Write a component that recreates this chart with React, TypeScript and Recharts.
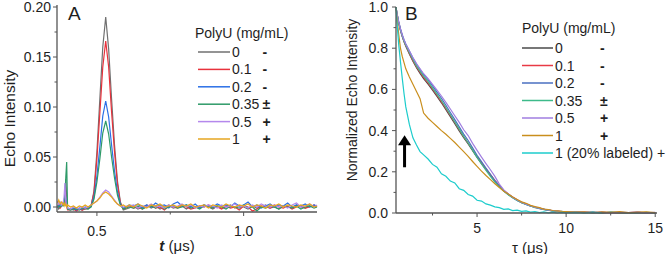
import React from 'react';
import { LineChart, Line, XAxis, YAxis, Legend, Label, ReferenceLine, ReferenceDot } from 'recharts';

const FONT = '"Liberation Sans", Arial, Helvetica, sans-serif';
const AXIS = '#555';
const TEXT = '#1e1e1e';

// ---------- Panel A : echo intensity vs t (µs) ----------
const tA = [
  0.366, 0.370, 0.375, 0.380, 0.385, 0.388, 0.391, 0.394, 0.397, 0.400,
  0.41, 0.42, 0.43, 0.44, 0.45, 0.46, 0.47, 0.48,
  0.49, 0.50, 0.51, 0.52, 0.53, 0.54, 0.55, 0.56, 0.57, 0.58, 0.59, 0.60,
  0.61, 0.625, 0.64, 0.655, 0.67, 0.685, 0.70, 0.715, 0.73, 0.745, 0.76,
  0.775, 0.79, 0.805, 0.82, 0.835, 0.85, 0.865, 0.88, 0.895, 0.91, 0.925,
  0.94, 0.955, 0.97, 0.985, 1.00, 1.015, 1.03, 1.045, 1.06, 1.075, 1.09,
  1.105, 1.12, 1.135, 1.15, 1.165, 1.18, 1.195, 1.21, 1.225, 1.24, 1.25,
];
const echo0 = [
  0.001, -0.002, 0.000, 0.002, 0.004, 0.003, 0.010, 0.028, 0.010, -0.002,
  -0.002, -0.003, -0.001, -0.002, -0.003, -0.001, -0.002, 0.001,
  0.016, 0.055, 0.108, 0.160, 0.190, 0.158, 0.108, 0.062, 0.026, 0.005, -0.003, -0.002,
  -0.001, 0.001, -0.002, 0.000, 0.002, -0.001, 0.001, -0.002, 0.000, 0.002, -0.001,
  0.000, 0.001, -0.002, 0.001, 0.000, -0.001, 0.002, 0.000, -0.002, 0.001, -0.001,
  0.000, 0.002, -0.001, 0.001, 0.000, -0.002, 0.001, -0.001, 0.000, 0.002, -0.001,
  0.000, -0.002, 0.001, 0.000, -0.001, 0.002, 0.000, -0.001, 0.001, 0.000, 0.001,
];
const echo01 = [
  0.000, 0.002, -0.001, 0.001, 0.004, 0.006, 0.008, 0.004, 0.001, -0.003,
  -0.003, -0.002, -0.004, -0.002, -0.003, -0.002, -0.001, 0.001,
  0.014, 0.048, 0.094, 0.140, 0.166, 0.140, 0.095, 0.055, 0.023, 0.004, -0.002, -0.001,
  0.001, -0.001, 0.000, -0.002, 0.001, 0.002, -0.001, 0.000, -0.003, 0.001, 0.000,
  -0.001, 0.002, 0.000, -0.002, -0.001, 0.001, 0.000, 0.002, -0.001, 0.000, -0.002,
  0.001, -0.001, 0.000, -0.003, 0.001, 0.000, -0.004, -0.002, 0.001, 0.000, -0.001,
  0.002, 0.000, -0.001, 0.001, -0.002, 0.000, 0.001, -0.001, 0.000, 0.002, 0.000,
];
const echo02 = [
  0.002, 0.000, 0.003, 0.001, 0.004, 0.006, 0.012, 0.008, 0.002, -0.001,
  -0.002, -0.001, -0.003, -0.001, -0.002, 0.000, -0.001, 0.001,
  0.010, 0.031, 0.060, 0.091, 0.106, 0.090, 0.062, 0.036, 0.015, 0.003, -0.001, 0.000,
  0.002, 0.001, 0.003, -0.001, 0.002, 0.000, 0.004, 0.001, 0.002, -0.001, 0.003,
  0.005, 0.001, 0.002, 0.000, 0.003, -0.001, 0.002, 0.001, 0.000, 0.003, 0.001,
  0.002, 0.000, 0.004, 0.001, 0.002, 0.005, 0.000, 0.002, -0.001, 0.001, 0.003,
  0.000, 0.002, 0.001, 0.004, 0.000, 0.002, 0.001, 0.003, 0.000, 0.002, 0.001,
];
const echo035 = [
  -0.001, 0.001, 0.000, 0.002, 0.001, 0.002, 0.010, 0.030, 0.045, -0.002,
  -0.003, -0.002, -0.002, -0.003, -0.001, -0.002, -0.002, 0.000,
  0.008, 0.025, 0.048, 0.074, 0.086, 0.073, 0.050, 0.029, 0.012, 0.002, -0.002, -0.001,
  0.000, -0.001, 0.001, -0.002, 0.000, 0.001, -0.001, 0.002, -0.002, 0.000, 0.001,
  -0.001, 0.000, 0.002, -0.001, 0.000, -0.002, 0.001, 0.000, -0.001, 0.001, 0.000,
  -0.002, 0.001, 0.000, -0.001, 0.002, -0.001, 0.000, -0.004, 0.000, -0.001, 0.001,
  0.000, -0.002, 0.001, 0.000, -0.001, 0.001, -0.002, 0.000, 0.001, -0.001, 0.000,
];
const echo05 = [
  0.006, 0.003, 0.005, 0.002, 0.004, 0.010, 0.024, 0.006, 0.000, -0.001,
  -0.002, 0.000, -0.001, -0.002, 0.000, -0.001, 0.000, 0.002,
  0.004, 0.006, 0.010, 0.014, 0.017, 0.015, 0.011, 0.007, 0.003, 0.001, 0.000, 0.001,
  0.001, 0.002, -0.001, 0.001, 0.000, 0.003, 0.000, 0.001, -0.001, 0.002, 0.000,
  0.001, 0.003, 0.000, 0.002, -0.001, 0.001, 0.000, 0.002, 0.001, -0.001, 0.002,
  0.000, 0.001, 0.003, 0.000, 0.001, -0.001, 0.002, 0.000, 0.003, 0.001, 0.000,
  0.002, 0.000, 0.001, -0.001, 0.002, 0.004, 0.000, 0.001, 0.003, 0.000, 0.002,
];
const echo1 = [
  0.004, 0.007, 0.003, 0.005, 0.002, 0.004, 0.001, 0.003, 0.000, 0.002,
  0.000, 0.001, -0.001, 0.001, 0.000, 0.002, 0.000, 0.002,
  0.004, 0.006, 0.009, 0.013, 0.015, 0.013, 0.010, 0.006, 0.003, 0.001, 0.002, 0.000,
  0.002, 0.000, 0.003, 0.001, -0.001, 0.002, 0.001, 0.003, 0.000, 0.001, 0.002,
  0.000, 0.002, 0.001, 0.003, 0.000, 0.001, 0.002, -0.001, 0.002, 0.001, 0.000,
  0.003, 0.001, 0.000, 0.002, 0.001, 0.003, 0.000, 0.002, 0.001, -0.001, 0.002,
  0.001, 0.003, 0.000, 0.002, 0.001, 0.000, 0.002, 0.001, 0.003, 0.000, 0.001,
];

// ---------- Panel B : normalized echo intensity vs tau (µs) ----------
const tauB = [
  0.45, 0.5, 0.6, 0.7, 0.8, 0.9, 1.0, 1.2, 1.4, 1.6, 1.8, 2.0,
  2.25, 2.5, 2.75, 3.0, 3.25, 3.5, 3.75, 4.0, 4.25, 4.5, 4.75, 5.0,
  5.25, 5.5, 5.75, 6.0, 6.25, 6.5, 6.75, 7.0, 7.25, 7.5, 7.75, 8.0,
  8.25, 8.5, 8.75, 9.0, 9.25, 9.5, 9.75, 10.0,
  10.5, 11.0, 11.5, 12.0, 12.5, 13.0, 13.5, 14.0, 14.5, 15.0,
];
const norm0 = [
  1.0, 0.968, 0.922, 0.886, 0.856, 0.831, 0.81, 0.772, 0.737, 0.705,
  0.678, 0.652, 0.626, 0.596, 0.566, 0.535, 0.502, 0.468, 0.434, 0.399,
  0.366, 0.335, 0.302, 0.27, 0.24, 0.212, 0.184, 0.155, 0.13, 0.108,
  0.091, 0.076, 0.062, 0.052, 0.043, 0.034, 0.029, 0.022, 0.019, 0.013,
  0.012, 0.008, 0.008, 0.004, 0.005, 0.002, 0.004, 0.001, 0.003, 0.002,
  0.000, 0.003, 0.001, 0.002,
];
const norm01 = [
  1.0, 0.97, 0.926, 0.89, 0.86, 0.834, 0.813, 0.776, 0.741, 0.71,
  0.684, 0.658, 0.632, 0.602, 0.572, 0.541, 0.508, 0.474, 0.44, 0.405,
  0.371, 0.34, 0.306, 0.274, 0.243, 0.214, 0.186, 0.158, 0.133, 0.11,
  0.092, 0.077, 0.064, 0.05, 0.044, 0.035, 0.027, 0.024, 0.017, 0.015,
  0.01, 0.009, 0.006, 0.006, 0.003, 0.004, 0.001, 0.003, 0.002, 0.000,
  0.002, 0.003, 0.001, 0.000,
];
const norm02 = [
  1.0, 0.972, 0.93, 0.895, 0.866, 0.841, 0.82, 0.786, 0.752, 0.722,
  0.697, 0.672, 0.647, 0.617, 0.587, 0.557, 0.523, 0.488, 0.453, 0.418,
  0.383, 0.352, 0.316, 0.28, 0.249, 0.218, 0.188, 0.157, 0.131, 0.107,
  0.09, 0.074, 0.061, 0.05, 0.042, 0.033, 0.028, 0.021, 0.018, 0.014,
  0.01, 0.009, 0.006, 0.005, 0.004, 0.002, 0.003, 0.001, 0.003, 0.002,
  0.001, 0.000, 0.002, 0.001,
];
const norm035 = [
  1.0, 0.969, 0.924, 0.889, 0.859, 0.834, 0.814, 0.779, 0.745, 0.714,
  0.689, 0.664, 0.638, 0.607, 0.577, 0.546, 0.512, 0.477, 0.442, 0.407,
  0.372, 0.34, 0.305, 0.27, 0.238, 0.207, 0.178, 0.15, 0.127, 0.106,
  0.089, 0.074, 0.061, 0.05, 0.041, 0.034, 0.026, 0.023, 0.016, 0.014,
  0.01, 0.008, 0.007, 0.004, 0.005, 0.002, 0.003, 0.000, 0.004, 0.001,
  0.002, 0.000, 0.003, 0.001,
];
const norm05 = [
  1.0, 0.97, 0.928, 0.893, 0.864, 0.84, 0.82, 0.787, 0.754, 0.725,
  0.7, 0.676, 0.652, 0.624, 0.596, 0.568, 0.537, 0.505, 0.472, 0.44,
  0.404, 0.376, 0.338, 0.304, 0.271, 0.24, 0.21, 0.178, 0.14, 0.112,
  0.093, 0.077, 0.063, 0.053, 0.043, 0.036, 0.028, 0.024, 0.018, 0.015,
  0.011, 0.01, 0.006, 0.007, 0.004, 0.006, 0.002, 0.005, 0.001, 0.004,
  0.002, 0.005, 0.001, 0.003,
];
const norm1 = [
  1.0, 0.95, 0.87, 0.80, 0.76, 0.73, 0.70, 0.66, 0.625, 0.59,
  0.555, 0.485, 0.46, 0.44, 0.42, 0.40, 0.382, 0.362, 0.342, 0.32,
  0.298, 0.275, 0.25, 0.226, 0.203, 0.182, 0.162, 0.142, 0.124, 0.106,
  0.092, 0.078, 0.066, 0.054, 0.047, 0.037, 0.031, 0.026, 0.019, 0.017,
  0.012, 0.01, 0.008, 0.007, 0.004, 0.006, 0.002, 0.005, 0.003, 0.007,
  0.002, 0.004, 0.006, 0.002,
];
const norm1lab = [
  1.0, 0.93, 0.82, 0.735, 0.655, 0.58, 0.515, 0.43, 0.365, 0.33,
  0.298, 0.282, 0.262, 0.236, 0.222, 0.19, 0.178, 0.155, 0.146, 0.118,
  0.11, 0.09, 0.082, 0.062, 0.058, 0.044, 0.038, 0.03, 0.026, 0.018,
  0.02, 0.012, 0.014, 0.008, 0.01, 0.004, 0.007, 0.002, 0.005, 0.001,
  0.004, 0.0, 0.003, 0.001, 0.002, 0.0, 0.003, 0.001,
  null, null, null, null, null, null,
];

// ---------- labels / ticks ----------
const concA = ['0', '0.1', '0.2', '0.35', '0.5', '1'];
const signA = ['-', '-', '-', '±', '+', '+'];
const concB = ['0', '0.1', '0.2', '0.35', '0.5', '1', '1 (20% labeled) +'];
const signB = ['-', '-', '-', '±', '+', '+', ''];
const colorsA = ['#707070', '#e8323c', '#2b6fe6', '#2e9a68', '#b488ec', '#e6a620'];
const colorsB = ['#4a4a4a', '#e83a45', '#4a6fc0', '#3dba8a', '#a07ee0', '#c98e1c', '#1ccccc'];

const yMajorA = [0, 0.05, 0.1, 0.15, 0.2];
const yMinorA = [0.025, 0.075, 0.125, 0.175];
const xMajorA = [0.5, 1.0];
const xMinorA = [0.75];
const yMajorB = [0, 0.2, 0.4, 0.6, 0.8, 1.0];
const yMinorB = [0.1, 0.3, 0.5, 0.7, 0.9];
const xMajorB = [5, 10, 15];
const xMinorB = [2.5, 7.5, 12.5];

const keysA = ['a0', 'a1', 'a2', 'a3', 'a4', 'a5'];
const seriesA = [echo0, echo01, echo02, echo035, echo05, echo1];
const keysB = ['b0', 'b1', 'b2', 'b3', 'b4', 'b5', 'b6'];
const seriesB = [norm0, norm01, norm02, norm035, norm05, norm1, norm1lab];

const rowsA = tA.map((t, i) => {
  const r: any = { t };
  keysA.forEach((k, j) => { r[k] = seriesA[j][i]; });
  return r;
});
const rowsB = tauB.map((tau, i) => {
  const r: any = { tau };
  keysB.forEach((k, j) => { r[k] = seriesB[j][i]; });
  return r;
});

const isIn = (arr: number[], v: number) => arr.some((m) => Math.abs(m - v) < 1e-9);

const makeLeftTick = (majors: number[], digits: number, gap: number) => (props: any) => {
  const { x, y, payload } = props;
  const v = payload.value;
  const major = isIn(majors, v);
  return (
    <g>
      <line x1={x - (major ? 4 : 2.5)} x2={x} y1={y} y2={y} stroke={AXIS} strokeWidth={1} />
      {major && (
        <text x={x - gap} y={y} textAnchor="end" dominantBaseline="central" fontSize={14} fill={TEXT} fontFamily={FONT}>
          {v.toFixed(digits)}
        </text>
      )}
    </g>
  );
};

const makeBottomTick = (majors: number[], digits: number, off: number) => (props: any) => {
  const { x, y, payload } = props;
  const v = payload.value;
  const major = isIn(majors, v);
  return (
    <g>
      <line x1={x} x2={x} y1={y} y2={y + (major ? 4 : 2.5)} stroke={AXIS} strokeWidth={1} />
      {major && (
        <text x={x} y={y + off} textAnchor="middle" dominantBaseline="central" fontSize={14} fill={TEXT} fontFamily={FONT}>
          {v.toFixed(digits)}
        </text>
      )}
    </g>
  );
};

const yTitle = (text: string, dx: number, dy: number, size: number) => (props: any) => {
  const vb = props.viewBox || { x: 0, y: 0, width: 0, height: 0 };
  const cx = vb.x + dx;
  const cy = vb.y + vb.height / 2 + dy;
  return (
    <text x={cx} y={cy} transform={`rotate(-90, ${cx}, ${cy})`} textAnchor="middle" dominantBaseline="central"
      fontSize={size} fill={TEXT} fontFamily={FONT}>
      {text}
    </text>
  );
};

const xTitle = (sym: string, italic: boolean, dx: number, dy: number) => (props: any) => {
  const vb = props.viewBox || { x: 0, y: 0, width: 0, height: 0 };
  const cx = vb.x + vb.width / 2 + dx;
  const cy = vb.y + dy;
  return (
    <text x={cx} y={cy} textAnchor="middle" dominantBaseline="central" fontSize={15} fill={TEXT} fontFamily={FONT}>
      <tspan fontStyle={italic ? 'italic' : 'normal'} fontWeight={italic ? 'bold' : 'normal'}>{sym}</tspan>
      <tspan> (μs)</tspan>
    </text>
  );
};

const legendA = () => (
  <svg width={120} height={130} style={{ display: 'block', overflow: 'visible' }}>
    <text x={5} y={13} dominantBaseline="central" fontSize={14} fill={TEXT} fontFamily={FONT}>PolyU (mg/mL)</text>
    {concA.map((c, i) => {
      const y = 32 + 17.4 * i;
      return (
        <g key={c}>
          <line x1={8} x2={40} y1={y} y2={y} stroke={colorsA[i]} strokeWidth={1.5} />
          <text x={42} y={y} dominantBaseline="central" fontSize={14} fill={TEXT} fontFamily={FONT}>{c}</text>
          <text x={72.5} y={y} dominantBaseline="central" fontSize={14} fontWeight="bold" fill={TEXT} fontFamily={FONT}>{signA[i]}</text>
        </g>
      );
    })}
  </svg>
);

const legendB = () => (
  <svg width={151} height={150} style={{ display: 'block', overflow: 'visible' }}>
    <text x={7} y={13} dominantBaseline="central" fontSize={14} fill={TEXT} fontFamily={FONT}>PolyU (mg/mL)</text>
    {concB.map((c, i) => {
      const y = 33 + 17.5 * i;
      return (
        <g key={c}>
          <line x1={7} x2={38} y1={y} y2={y} stroke={colorsB[i]} strokeWidth={1.5} />
          <text x={40} y={y} dominantBaseline="central" fontSize={14} fill={TEXT} fontFamily={FONT}>{c}</text>
          {signB[i] && (
            <text x={85} y={y} dominantBaseline="central" fontSize={14} fontWeight="bold" fill={TEXT} fontFamily={FONT}>{signB[i]}</text>
          )}
        </g>
      );
    })}
  </svg>
);

const arrowHead = (props: any) => {
  const { cx, cy } = props;
  return <polygon points={`${cx},${cy} ${cx - 6.5},${cy + 10} ${cx + 6.5},${cy + 10}`} fill="#000" />;
};

const panelLetter = (ch: string, left: number) => (
  <svg style={{ position: 'absolute', left, top: 0, overflow: 'visible' }} width={24} height={24}>
    <text x={0} y={20} fontSize={19} fill={TEXT} fontFamily={FONT}>{ch}</text>
  </svg>
);

export default function App() {
  return (
    <div style={{ position: 'absolute', left: 0, top: 0, width: 666, height: 254, background: '#fff', overflow: 'hidden' }}>
      <div style={{ position: 'absolute', left: 0, top: 0 }}>
        <LineChart width={333} height={254} data={rowsA} margin={{ top: 5, right: 16, bottom: 12, left: 0 }}>
          <XAxis dataKey="t" type="number" domain={[0.364, 1.25]} ticks={[...xMajorA, ...xMinorA]} interval={0}
            height={30} tickSize={0} tickMargin={0} tickLine={false} axisLine={{ stroke: AXIS, strokeWidth: 1.3 }}
            tick={makeBottomTick(xMajorA, 1, 19)}>
            <Label content={xTitle('t', true, -10, 33)} />
          </XAxis>
          <YAxis type="number" domain={[-0.005, 0.202]} ticks={[...yMajorA, ...yMinorA]} interval={0}
            width={57} tickSize={0} tickMargin={0} tickLine={false} axisLine={{ stroke: AXIS, strokeWidth: 1.3 }}
            tick={makeLeftTick(yMajorA, 2, 6)}>
            <Label content={yTitle('Echo Intensity', 9, 10, 15.5)} />
          </YAxis>
          {keysA.map((k, i) => (
            <Line key={k} dataKey={k} name={concA[i]} stroke={colorsA[i]} strokeWidth={1.2} dot={false}
              isAnimationActive={false} />
          ))}
          <Legend layout="vertical" align="center" verticalAlign="middle" content={legendA}
            wrapperStyle={{ position: 'absolute', left: 190, top: 20, width: 120, height: 130 }} />
        </LineChart>
      </div>
      <div style={{ position: 'absolute', left: 333, top: 0 }}>
        <LineChart width={333} height={254} data={rowsB} margin={{ top: 7, right: 9, bottom: 11, left: 0 }}>
          <XAxis dataKey="tau" type="number" domain={[0.45, 15.1]} ticks={[...xMajorB, ...xMinorB]} interval={0}
            height={30} tickSize={0} tickMargin={0} tickLine={false} axisLine={{ stroke: AXIS, strokeWidth: 1.3 }}
            tick={makeBottomTick(xMajorB, 0, 15)}>
            <Label content={xTitle('τ', false, 3.5, 34)} />
          </XAxis>
          <YAxis type="number" domain={[0, 1.0]} ticks={[...yMajorB, ...yMinorB]} interval={0}
            width={63} tickSize={0} tickMargin={0} tickLine={false} axisLine={{ stroke: AXIS, strokeWidth: 1.3 }}
            tick={makeLeftTick(yMajorB, 1, 8)}>
            <Label content={yTitle('Normalized Echo Intensity', 19, -10, 14)} />
          </YAxis>
          {keysB.map((k, i) => (
            <Line key={k} dataKey={k} name={concB[i]} stroke={colorsB[i]} strokeWidth={1.2} dot={false}
              isAnimationActive={false} connectNulls={false} />
          ))}
          <ReferenceLine segment={[{ x: 0.93, y: 0.222 }, { x: 0.93, y: 0.335 }]} stroke="#000" strokeWidth={3} />
          <ReferenceDot x={0.93} y={0.377} r={1} shape={arrowHead} />
          <Legend layout="vertical" align="center" verticalAlign="middle" content={legendB}
            wrapperStyle={{ position: 'absolute', left: 182, top: 15, width: 151, height: 150 }} />
        </LineChart>
      </div>
      {panelLetter('A', 68)}
      {panelLetter('B', 405)}
    </div>
  );
}
